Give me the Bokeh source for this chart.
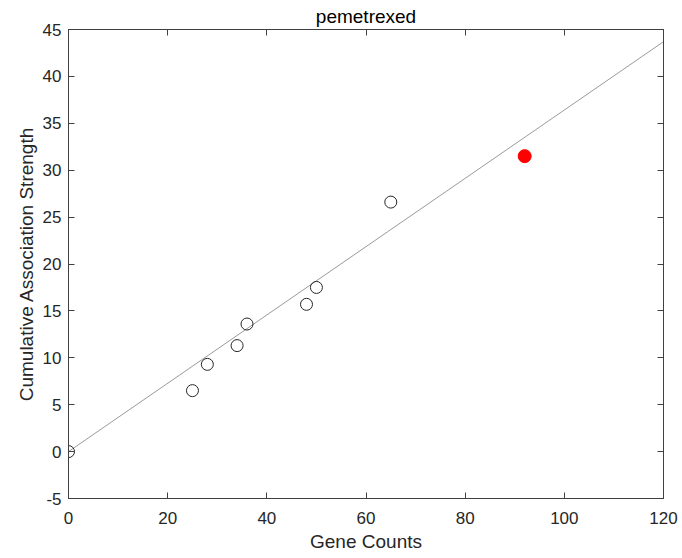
from bokeh.plotting import figure
from bokeh.models import Range1d, LinearAxis, FixedTicker
from bokeh.embed import file_html
from bokeh.resources import INLINE

# Gene counts vs. cumulative association strength
gene_counts = [0, 25, 28, 34, 36, 48, 50, 65]
assoc_strength = [0.0, 6.5, 9.3, 11.3, 13.6, 15.7, 17.5, 26.6]

# highlighted drug
hl_count = [92]
hl_strength = [31.5]

# fitted trend line endpoints
fit_x = [0, 120]
fit_y = [0.0, 43.7]

x_ticks = [0, 20, 40, 60, 80, 100, 120]
y_ticks = [-5, 0, 5, 10, 15, 20, 25, 30, 35, 40, 45]

FONT = "Liberation Sans"
AXIS_COLOR = "#404040"
TEXT_COLOR = "#262626"

p = figure(
    width=682, height=558,
    x_range=Range1d(0, 120), y_range=Range1d(-5, 45),
    output_backend="svg", toolbar_location=None,
    min_border_left=68, min_border_right=19,
    min_border_top=29, min_border_bottom=60,
    title="pemetrexed",
)
p.background_fill_color = "white"
p.border_fill_color = "white"
p.outline_line_color = AXIS_COLOR
p.outline_line_width = 1
p.xgrid.visible = False
p.ygrid.visible = False

p.title.align = "center"
p.title.text_font = FONT
p.title.text_font_size = "19px"
p.title.text_font_style = "normal"
p.title.text_color = "black"
p.title.offset = 0
p.title.standoff = 6

def style_axis(ax, show_labels):
    ax.major_tick_in = 6
    ax.major_tick_out = 0
    ax.minor_tick_line_color = None
    ax.axis_line_color = AXIS_COLOR
    ax.major_tick_line_color = AXIS_COLOR
    ax.major_label_text_font = FONT
    ax.major_label_text_font_size = "17px"
    ax.major_label_text_color = TEXT_COLOR
    ax.axis_label_text_font = FONT
    ax.axis_label_text_font_size = "19px"
    ax.axis_label_text_font_style = "normal"
    ax.axis_label_text_color = TEXT_COLOR
    if not show_labels:
        ax.major_label_text_font_size = "0px"
        ax.major_label_text_color = None

p.xaxis.ticker = FixedTicker(ticks=x_ticks)
p.yaxis.ticker = FixedTicker(ticks=y_ticks)
p.yaxis.major_label_overrides = {-5: "-5"}
p.xaxis.axis_label = "Gene Counts"
p.yaxis.axis_label = "Cumulative Association Strength"
style_axis(p.xaxis[0], True)
style_axis(p.yaxis[0], True)
p.xaxis.major_label_standoff = 13
p.xaxis.axis_label_standoff = 4
p.yaxis.major_label_standoff = 7
p.yaxis.axis_label_standoff = 3

top_axis = LinearAxis(ticker=FixedTicker(ticks=x_ticks))
right_axis = LinearAxis(ticker=FixedTicker(ticks=y_ticks))
style_axis(top_axis, False)
style_axis(right_axis, False)
p.add_layout(top_axis, "above")
p.add_layout(right_axis, "right")

# trend line
p.line(fit_x, fit_y, line_color="#555555", line_width=0.6)

# observed points
p.scatter(gene_counts, assoc_strength, marker="circle", size=12,
          fill_color=None, line_color=TEXT_COLOR, line_width=1)

# highlighted point
p.scatter(hl_count, hl_strength, marker="circle", size=13,
          fill_color="#ff0000", line_color="#ff0000")

open("out.html", "w").write(file_html(p, INLINE))
